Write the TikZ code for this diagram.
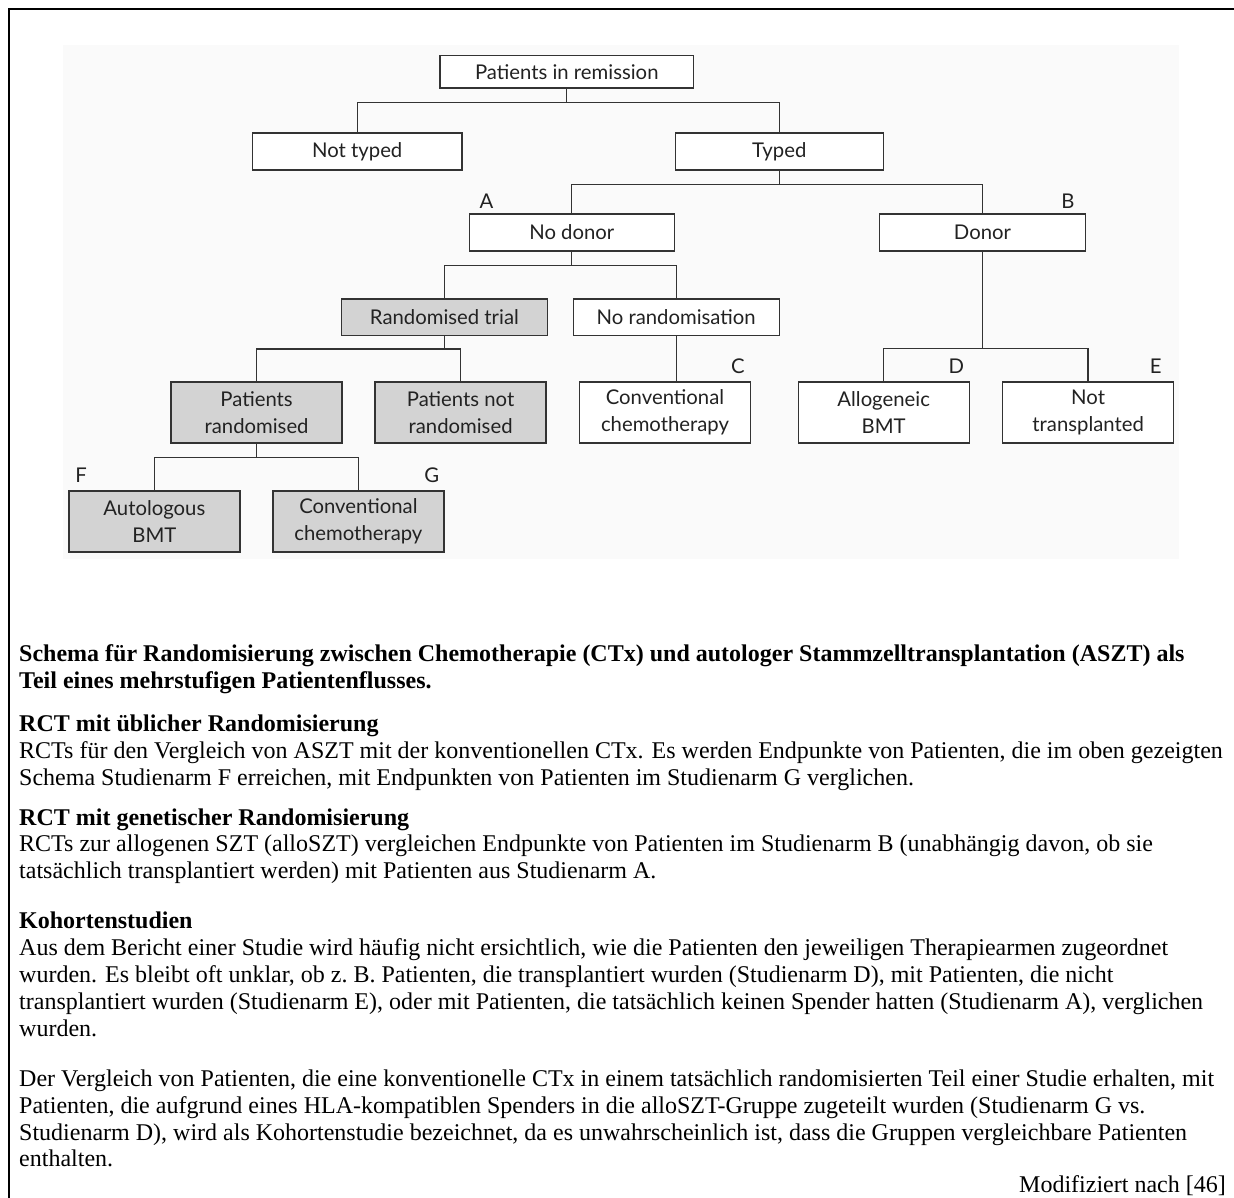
\documentclass[tikz,border=0pt]{standalone}
\usepackage{fontspec}
\setmainfont{Liberation Serif}
\newfontfamily\gill{Lato}
\definecolor{linecol}{HTML}{333333}
\definecolor{boxgray}{HTML}{D3D3D3}
\definecolor{bgcol}{HTML}{FAFAFA}
\definecolor{diatext}{HTML}{222222}
\tikzset{
  box/.style={draw=linecol, line width=1.3pt, fill=white, inner sep=0pt,
    font=\gill\fontsize{20.3}{27}\selectfont, text=diatext, align=center,
    minimum width=206pt, minimum height=37pt},
  smallbox/.style={box, minimum width=171pt, minimum height=61pt},
  gbox/.style={fill=boxgray},
  lbl/.style={inner sep=0pt, font=\gill\fontsize{20.3}{22}\selectfont, text=diatext},
  conn/.style={draw=linecol, line width=1.3pt},
  body/.style={anchor=base west, inner sep=0pt, font=\fontsize{24}{27}\selectfont},
  bodyb/.style={body, font=\fontsize{24}{27}\selectfont\bfseries}
}
\begin{document}
\begin{tikzpicture}[x=1pt,y=-1pt]
\useasboundingbox (0,0) rectangle (1234,1198);
\fill[bgcol] (63,45) rectangle (1179.4,558.5);
\draw[line width=2pt] (8.7,1210) -- (8.7,9) -- (1245,9);

% nodes
\node[box, minimum width=253.5pt, minimum height=32.5pt] (rem) at (566.8,71.8) {Patients in remission};
\node[box, minimum width=209.5pt] (nottyped) at (357.2,151.5) {Not typed};
\node[box, minimum width=208pt] (typed) at (779.3,151.5) {Typed};
\node[box, minimum width=204.7pt] (nodonor) at (571.8,232.5) {No donor};
\node[box, minimum width=206.4pt] (donor) at (982.5,232.5) {Donor};
\node[box, gbox, minimum height=36.5pt] (randtrial) at (444.4,317.2) {Randomised trial};
\node[box, minimum height=36.5pt] (norand) at (676.2,317.2) {No randomisation};
\node[smallbox, gbox] (patrand) at (256.6,412.5) {Patients\\randomised};
\node[smallbox, gbox] (patnotrand) at (460.6,412.5) {Patients not\\randomised};
\node[smallbox] (convC) at (665,412.5) {Conventional\\chemotherapy};
\node[smallbox] (allo) at (883.7,412.5) {Allogeneic\\BMT};
\node[smallbox] (nottrans) at (1088.1,412.5) {Not\\transplanted};
\node[smallbox, gbox] (auto) at (154.4,521.5) {Autologous\\BMT};
\node[smallbox, gbox] (convG) at (358.4,521.5) {Conventional\\chemotherapy};

% labels
\node[lbl] (lA) at (486.4,201) {A};
\node[lbl] (lB) at (1068,201) {B};
\node[lbl] (lC) at (737.8,366) {C};
\node[lbl] (lD) at (956.4,366) {D};
\node[lbl] (lE) at (1155.7,366) {E};
\node[lbl] (lF) at (81,475) {F};
\node[lbl] (lG) at (431.8,475) {G};

% connectors
\draw[conn] (rem.south) -- ++(0,14) -| (nottyped.north);
\draw[conn] (rem.south) -- ++(0,14) -| (typed.north);
\draw[conn] (typed.south) -- ++(0,14) -| (nodonor.north);
\draw[conn] (typed.south) -- ++(0,14) -| (donor.north);
\draw[conn] (nodonor.south) -- ++(0,14) -| (randtrial.north);
\draw[conn] (nodonor.south) -- ++(0,14) -| (norand.north);
\draw[conn] (randtrial.south) -- ++(0,13) -| (patrand.north);
\draw[conn] (randtrial.south) -- ++(0,13) -| (patnotrand.north);
\draw[conn] (norand.south) -- (norand.south |- convC.north);
\draw[conn] (donor.south) -- ++(0,97) -| (allo.north);
\draw[conn] (donor.south) -- ++(0,97) -| (nottrans.north);
\draw[conn] (patrand.south) -- ++(0,14) -| (auto.north);
\draw[conn] (patrand.south) -- ++(0,14) -| (convG.north);

% text
\node[bodyb] (t1) at (19,661) {Schema für Randomisierung zwischen Chemotherapie (CTx) und autologer Stammzelltransplantation (ASZT) als};
\node[bodyb] (t2) at (19,688) {Teil eines mehrstufigen Patientenflusses.};
\node[bodyb] (t3) at (19,731) {RCT mit üblicher Randomisierung};
\node[body] (t4) at (19,758) {RCTs für den Vergleich von ASZT mit der konventionellen CTx. Es werden Endpunkte von Patienten, die im oben gezeigten};
\node[body] (t5) at (19,785) {Schema Studienarm F erreichen, mit Endpunkten von Patienten im Studienarm G verglichen.};
\node[bodyb] (t6) at (19,825) {RCT mit genetischer Randomisierung};
\node[body] (t7) at (19,851) {RCTs zur allogenen SZT (alloSZT) vergleichen Endpunkte von Patienten im Studienarm B (unabhängig davon, ob sie};
\node[body] (t8) at (19,878) {tatsächlich transplantiert werden) mit Patienten aus Studienarm A.};
\node[bodyb] (t9) at (19,928) {Kohortenstudien};
\node[body] (t10) at (19,955) {Aus dem Bericht einer Studie wird häufig nicht ersichtlich, wie die Patienten den jeweiligen Therapiearmen zugeordnet};
\node[body] (t11) at (19,982) {wurden. Es bleibt oft unklar, ob z.~B. Patienten, die transplantiert wurden (Studienarm D), mit Patienten, die nicht};
\node[body] (t12) at (19,1009) {transplantiert wurden (Studienarm E), oder mit Patienten, die tatsächlich keinen Spender hatten (Studienarm A), verglichen};
\node[body] (t13) at (19,1036) {wurden.};
\node[body] (t14) at (19,1086) {Der Vergleich von Patienten, die eine konventionelle CTx in einem tatsächlich randomisierten Teil einer Studie erhalten, mit};
\node[body] (t15) at (19,1113) {Patienten, die aufgrund eines HLA-kompatiblen Spenders in die alloSZT-Gruppe zugeteilt wurden (Studienarm G vs.};
\node[body] (t16) at (19,1140) {Studienarm D), wird als Kohortenstudie bezeichnet, da es unwahrscheinlich ist, dass die Gruppen vergleichbare Patienten};
\node[body] (t17) at (19,1166) {enthalten.};
\node[body, anchor=base east] (t18) at (1226,1192) {Modifiziert nach [46]};
\end{tikzpicture}
\end{document}
